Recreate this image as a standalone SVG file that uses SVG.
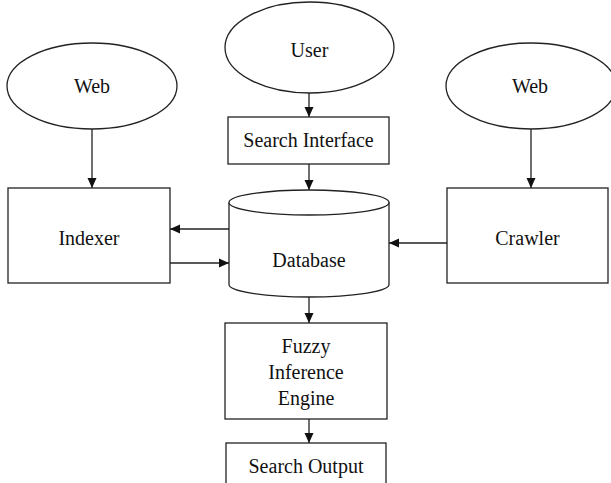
<svg xmlns="http://www.w3.org/2000/svg" width="611" height="483" viewBox="0 0 611 483">
<style>
.s{fill:#fff;stroke:#222;stroke-width:1.3}
.t{font-family:"Liberation Serif","Times New Roman",serif;font-size:20px;fill:#111;text-anchor:middle}
.c{stroke:#222;stroke-width:1.3;fill:none;marker-end:url(#a)}
</style>
<defs>
<marker id="a" viewBox="0 0 10 10" refX="10" refY="5" markerWidth="10" markerHeight="10" markerUnits="userSpaceOnUse" orient="auto">
<path d="M0,0.5 L10,5 L0,9.5 Z" fill="#111"/>
</marker>
</defs>
<rect width="611" height="483" fill="#fff"/>
<g id="connectors">
<line class="c" x1="309" y1="93" x2="309" y2="117"/>
<line class="c" x1="309" y1="164" x2="309" y2="190"/>
<line class="c" x1="92" y1="129" x2="92" y2="188"/>
<line class="c" x1="531" y1="129" x2="531" y2="188"/>
<line class="c" x1="229" y1="229" x2="170" y2="229"/>
<line class="c" x1="170" y1="263" x2="229" y2="263"/>
<line class="c" x1="447" y1="243" x2="389" y2="243"/>
<line class="c" x1="309" y1="297" x2="309" y2="323"/>
<line class="c" x1="309" y1="419" x2="309" y2="443"/>
</g>
<g id="user">
<ellipse class="s" cx="309.5" cy="47.5" rx="84.5" ry="45.5"/>
<text class="t" x="309.5" y="57">User</text>
</g>
<g id="search-interface">
<rect class="s" x="228" y="117" width="161" height="47"/>
<text class="t" x="308.5" y="147">Search Interface</text>
</g>
<g id="web-left">
<ellipse class="s" cx="92" cy="86" rx="85" ry="43"/>
<text class="t" x="92" y="93">Web</text>
</g>
<g id="web-right">
<ellipse class="s" cx="531" cy="86" rx="85" ry="43"/>
<text class="t" x="530" y="93">Web</text>
</g>
<g id="indexer">
<rect class="s" x="8" y="188" width="162" height="95"/>
<text class="t" x="89" y="245">Indexer</text>
</g>
<g id="crawler">
<rect class="s" x="447" y="188" width="161" height="95"/>
<text class="t" x="527.5" y="245">Crawler</text>
</g>
<g id="database">
<path class="s" d="M229,202.5 L229,284.5 A80,12.5 0 0 0 389,284.5 L389,202.5"/>
<ellipse class="s" cx="309" cy="202.5" rx="80" ry="12.5"/>
<text class="t" x="309" y="267">Database</text>
</g>
<g id="fuzzy">
<rect class="s" x="225" y="323" width="162" height="96"/>
<text class="t" x="306" y="353">Fuzzy</text>
<text class="t" x="306" y="379">Inference</text>
<text class="t" x="306" y="405">Engine</text>
</g>
<g id="search-output">
<rect class="s" x="226" y="443" width="160" height="50"/>
<text class="t" x="306" y="473">Search Output</text>
</g>
</svg>
